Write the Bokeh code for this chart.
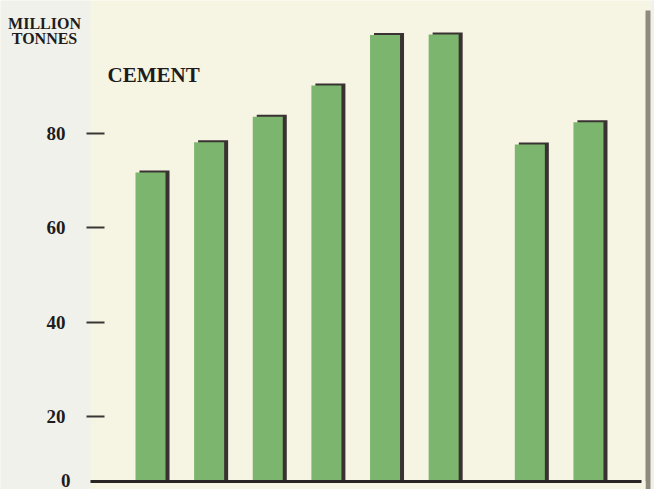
from bokeh.plotting import figure
from bokeh.models import (Range1d, FixedTicker, Label, BoxAnnotation,
                          ColumnDataSource)
from bokeh.transform import dodge
from bokeh.embed import file_html
from bokeh.resources import INLINE

# ---- data ----
periods = ["1", "2", "3", "4", "5", "6", "7", "8"]
period_group = [0, 0, 0, 0, 0, 0, 1, 1]          # break in the series before bar 7
cement = [71.7, 78.1, 83.5, 90.1, 100.8, 100.9, 77.6, 82.3]
y_ticks = [0, 20, 40, 60, 80]
unit_line1 = "MILLION"
unit_line2 = "TONNES"
series_name = "CEMENT"
zero_label = "0"

# ---- styles / layout ----
W, H = 654, 489
CREAM = "#f6f4e2"
PAPER = "#f1f1eb"
GREEN = "#7cb66e"
SHADOW = "#3a3232"
INK = "#1e1c1c"
EDGE = "#8f8a7e"
SERIF = "Liberation Serif"
GROUP_GAP = 0.47
SLOT_PX = 58.63
PX_PER_UNIT = 4.72
X0 = -150.0 / SLOT_PX                 # x value at the left edge of the canvas
Y0 = 80 - (H - 132.7) / PX_PER_UNIT   # y value at the bottom edge of the canvas


def sx(px):
    return X0 + px / SLOT_PX


def sy(py):
    return Y0 + (H - py) / PX_PER_UNIT


xpos = [i + GROUP_GAP * g for i, g in enumerate(period_group)]
shadow_top = [v + 2.0 / PX_PER_UNIT for v in cement]
src = ColumnDataSource(dict(x=xpos, period=periods, top=cement, stop=shadow_top))

p = figure(x_range=Range1d(X0, X0 + W / SLOT_PX),
           y_range=Range1d(Y0, Y0 + H / PX_PER_UNIT),
           width=W, height=H, output_backend="svg", toolbar_location=None,
           x_axis_location=None, y_axis_location="left",
           min_border=0, min_border_left=0, min_border_right=0,
           min_border_top=0, min_border_bottom=0)

p.background_fill_color = CREAM
p.border_fill_color = PAPER
p.outline_line_color = None
p.grid.visible = False

# paper areas outside the chart panel
p.add_layout(BoxAnnotation(right=sx(90), fill_color=PAPER, fill_alpha=1,
                           line_color=None, level="underlay"))
p.add_layout(BoxAnnotation(left=sx(650), fill_color=PAPER, fill_alpha=1,
                           line_color=None, level="underlay"))
p.add_layout(BoxAnnotation(left=sx(645), right=sx(650), top=sy(10),
                           fill_color=EDGE, fill_alpha=1, line_color=None,
                           level="underlay"))

# shadow (3-D edge) then bar face
p.vbar(x=dodge("x", 4.0 / SLOT_PX), top="stop", bottom=0, width=0.512,
       source=src, fill_color=SHADOW, line_color=None)
p.vbar(x="x", top="top", bottom=0, width=0.512, source=src,
       fill_color=GREEN, line_color=None)

# strip below the baseline and the baseline itself
p.add_layout(BoxAnnotation(left=sx(90), right=sx(645), top=sy(481),
                           fill_color=CREAM, fill_alpha=1, line_color=None))
p.add_layout(BoxAnnotation(left=sx(90), right=sx(641), top=sy(479.5),
                           bottom=sy(482.5), fill_color="#2a2626",
                           fill_alpha=1, line_color=None))

# y axis, fixed at the left edge of the chart panel
ya = p.yaxis[0]
ya.fixed_location = sx(90)
ya.ticker = FixedTicker(ticks=y_ticks)
ya.axis_line_color = None
ya.major_tick_in = 14
ya.major_tick_out = 4
ya.major_tick_line_width = 2
ya.major_tick_line_color = "#3a3636"
ya.minor_tick_line_color = None
ya.major_label_standoff = 21
ya.major_label_text_font = SERIF
ya.major_label_text_font_style = "bold"
ya.major_label_text_font_size = "19px"
ya.major_label_text_color = INK

# texts
for txt, top_px in ((unit_line1, 14), (unit_line2, 29)):
    p.add_layout(Label(x=sx(44), y=sy(top_px), text=txt, text_align="center",
                       text_baseline="top", text_font=SERIF,
                       text_font_style="bold", text_font_size="16px",
                       text_color=INK))
p.add_layout(Label(x=sx(107), y=sy(62), text=series_name, text_align="left",
                   text_baseline="top", text_font=SERIF,
                   text_font_style="bold", text_font_size="21px",
                   text_color=INK))
p.add_layout(Label(x=sx(70), y=sy(473), text=zero_label, text_align="right",
                   text_baseline="top", text_font=SERIF,
                   text_font_style="bold", text_font_size="19px",
                   text_color=INK))

open("out.html", "w").write(file_html(p, INLINE))
